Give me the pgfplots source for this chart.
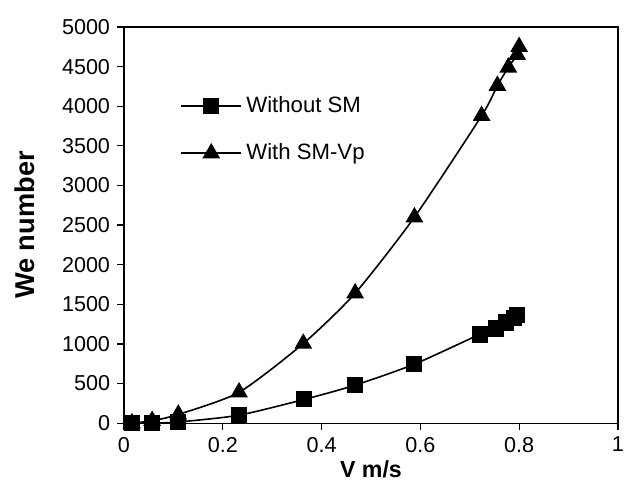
\documentclass[border=0pt]{standalone}
\usepackage{fontspec}
\setmainfont{Liberation Sans}
\usepackage{pgfplots}
\pgfplotsset{compat=1.18}

\pgfplotstableread{
x y
0.016 0
0.057 0
0.110 15
0.232 100
0.365 300
0.468 480
0.588 745
0.720 1120
0.753 1195
0.774 1270
0.790 1330
0.796 1370
}\withoutsm

\pgfplotstableread{
x y
0.016 0
0.057 30
0.110 110
0.233 390
0.363 1005
0.468 1640
0.588 2600
0.724 3880
0.756 4260
0.778 4490
0.796 4650
0.800 4750
}\withsm

\begin{document}
\begin{tikzpicture}
  % page frame, axis box sits with its south west corner at the origin
  \useasboundingbox (-61.5pt,-28.8pt) rectangle (249.5pt,209.9pt);
  \begin{axis}[
      anchor=south west, at={(0,0)},
      scale only axis,
      width=245pt, height=196.5pt,
      xmin=0, xmax=1, ymin=0, ymax=5000,
      xtick={0,0.2,0.4,0.6,0.8,1},
      ytick={0,500,...,5000},
      xticklabels={0,0.2,0.4,0.6,0.8,1},
      scaled y ticks=false,
      yticklabel style={/pgf/number format/1000 sep={}},
      /pgf/number format/assume math mode=true,
      tick align=outside,
      xtick pos=left, ytick pos=left,
      major tick length=3.4pt,
      axis line style={line width=0.6pt},
      tick style={line width=0.6pt, black},
      ticklabel style={font=\fontsize{10.7}{12}\selectfont},
      xlabel={\textbf{V m/s}},
      ylabel={\textbf{We number}},
      xlabel style={font=\fontsize{11.5}{13}\selectfont,
        at={(axis description cs:0.5,0)}, anchor=base, yshift=-26.8pt},
      ylabel style={font=\fontsize{13.5}{15}\selectfont,
        at={(axis description cs:-0.2,0.5)}, anchor=center},
      legend style={draw=none, fill=none, inner sep=0pt,
        at={(axis description cs:0.113,0.741)}, anchor=west,
        font=\fontsize{11}{13}\selectfont, row sep=10pt},
      legend cell align=left,
      legend image code/.code={
        \draw[mark repeat=2, mark phase=2] plot coordinates {(0pt,0pt) (15pt,0pt) (30pt,0pt)};
      },
    ]
    \addplot[black, line width=0.8pt, smooth, tension=0.4, mark=square*, mark size=3.6pt,
      mark options={solid}] table {\withoutsm};
    \addlegendentry{Without SM}
    \addplot[black, line width=0.8pt, smooth, tension=0.4, mark=triangle*, mark size=4.3pt,
      mark options={solid}] table {\withsm};
    \addlegendentry{With SM-Vp}
  \end{axis}
\end{tikzpicture}
\end{document}
